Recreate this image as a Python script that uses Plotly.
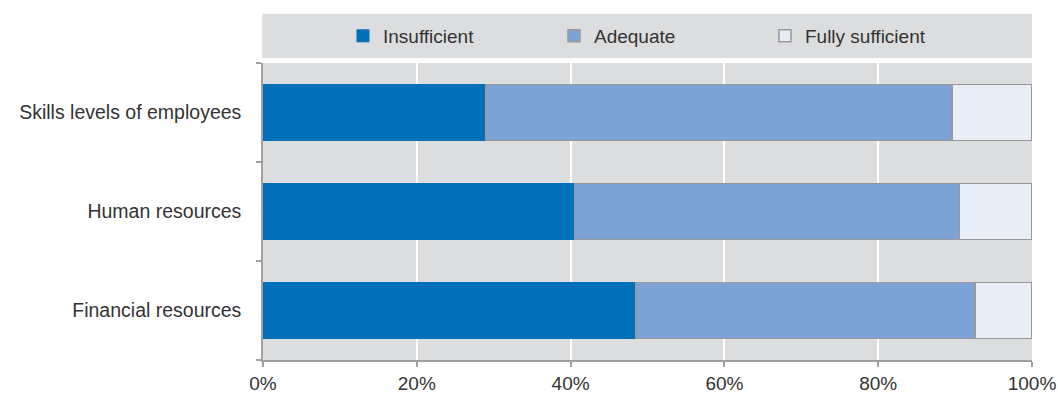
import plotly.graph_objects as go

categories = ["Financial resources", "Human resources", "Skills levels of employees"]
insufficient = [48.5, 40.5, 29.0]
adequate = [44.1, 50.1, 60.6]
fully_sufficient = [7.4, 9.4, 10.4]
x_ticks = [0, 20, 40, 60, 80, 100]
x_tick_labels = ["0%", "20%", "40%", "60%", "80%", "100%"]

FONT = "Liberation Sans, Arial, sans-serif"
TEXT = "#333333"
EDGE = "#999999"

fig = go.Figure()
fig.add_trace(go.Bar(y=categories, x=insufficient, name="Insufficient", orientation="h",
                     marker=dict(color="#0070B8", line=dict(color="#0070B8", width=1))))
fig.add_trace(go.Bar(y=categories, x=adequate, name="Adequate", orientation="h",
                     marker=dict(color="#7DA2D5", line=dict(color=EDGE, width=1.5))))
fig.add_trace(go.Bar(y=categories, x=fully_sufficient, name="Fully sufficient", orientation="h",
                     marker=dict(color="#E8EDF6", line=dict(color=EDGE, width=1.5))))

fig.update_layout(
    barmode="stack",
    bargap=0.435,
    width=1058, height=394,
    margin=dict(l=263, r=26, t=63, b=34, autoexpand=False),
    paper_bgcolor="white",
    plot_bgcolor="#DCDDDF",
    font=dict(family=FONT, size=19, color=TEXT),
    showlegend=True,
    legend=dict(orientation="h", x=0.104, xanchor="left", y=1.091, yanchor="middle",
                bgcolor="rgba(0,0,0,0)", entrywidth=166, entrywidthmode="pixels",
                traceorder="normal", font=dict(family=FONT, size=19, color=TEXT)),
    shapes=[dict(type="rect", xref="paper", yref="paper", x0=-0.001, x1=1.0,
                 y0=1.0168, y1=1.166, fillcolor="#DCDDDF", line=dict(width=0), layer="below")],
    xaxis=dict(range=[0, 100], tickvals=x_ticks, ticktext=x_tick_labels,
               showgrid=True, gridcolor="white", gridwidth=1.5, zeroline=False,
               showline=True, linecolor="#A0A0A0", linewidth=1.5,
               ticks="outside", ticklen=5, tickcolor="#A0A0A0", tickwidth=1.5,
               tickfont=dict(family=FONT, size=19, color=TEXT)),
    yaxis=dict(categoryorder="array", categoryarray=categories,
               showgrid=False, zeroline=False,
               showline=True, linecolor="#A0A0A0", linewidth=1.5,
               ticks="outside", tickson="boundaries", ticklen=5, tickcolor="#A0A0A0", tickwidth=1.5,
               ticklabelstandoff=16,
               tickfont=dict(family=FONT, size=19.5, color=TEXT)),
)

fig.write_html("out.html")
